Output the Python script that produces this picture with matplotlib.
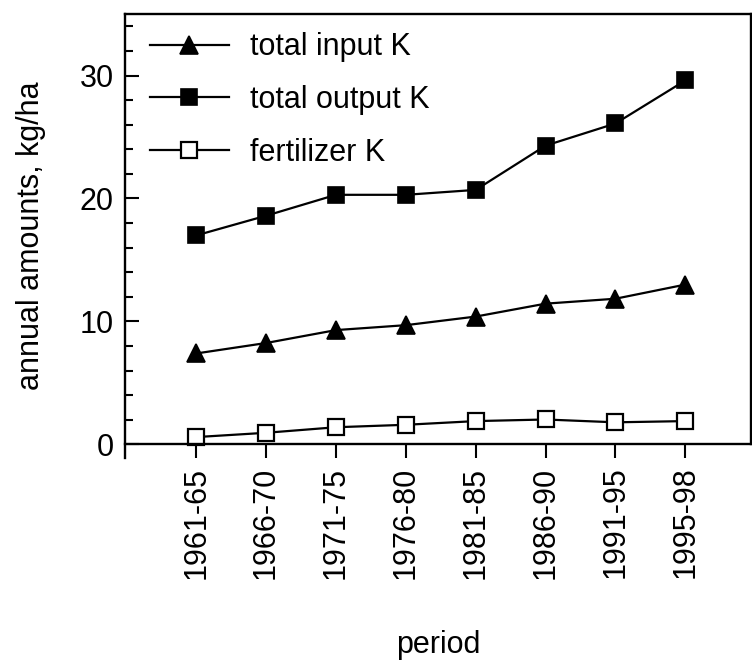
import numpy as np
import matplotlib
matplotlib.use('Agg')
import matplotlib.pyplot as plt
from matplotlib.ticker import MultipleLocator

plt.rcParams['font.family'] = ['Liberation Sans', 'DejaVu Sans']

periods = ['1961-65', '1966-70', '1971-75', '1976-80',
           '1981-85', '1986-90', '1991-95', '1995-98']
total_input = [7.4, 8.25, 9.3, 9.7, 10.4, 11.45, 11.85, 13.0]
total_output = [17.0, 18.6, 20.3, 20.3, 20.7, 24.3, 26.1, 29.6]
fertilizer = [0.6, 0.95, 1.4, 1.6, 1.9, 2.03, 1.8, 1.9]

fs = 22
x = np.arange(len(periods))

fig = plt.figure(figsize=(7.52, 6.65), dpi=100)
ax = fig.add_axes([0.1662, 0.3113, 0.8325, 0.6676])

ax.plot(x, total_input, '-^', color='black', lw=1.6, ms=12.5, mew=1.2,
        label='total input K')
ax.plot(x, total_output, '-s', color='black', lw=1.6, ms=12, mew=1.2,
        label='total output K')
ax.plot(x, fertilizer, '-s', color='black', mfc='white', lw=1.6, ms=12,
        mew=1.6, label='fertilizer K')

ax.set_xlim(-1.02, 7.94)
ax.set_ylim(-1.1, 35)
ax.spines['bottom'].set_position(('data', 0))
ax.spines['right'].set_bounds(0, 35)
for s in ax.spines.values():
    s.set_linewidth(1.7)

ax.set_xticks(x)
ax.set_xticklabels(periods, rotation=90, fontsize=fs)
ax.tick_params(axis='x', direction='out', length=10, width=1.5, pad=6)
ax.yaxis.set_major_locator(MultipleLocator(10))
ax.yaxis.set_minor_locator(MultipleLocator(2))
ax.tick_params(axis='y', which='major', direction='in', length=10, width=1.5,
               pad=8, labelsize=fs)
ax.tick_params(axis='y', which='minor', direction='in', length=6, width=1.5)

ax.set_ylabel('annual amounts, kg/ha', fontsize=fs, labelpad=24)
ax.set_xlabel('period', fontsize=fs, labelpad=37)

ax.legend(loc='upper left', frameon=False, fontsize=fs, handlelength=2.6,
          handletextpad=0.68, labelspacing=0.74, borderaxespad=0.2,
          bbox_to_anchor=(0.01, 1.0))

fig.savefig('out.png', dpi=100)
